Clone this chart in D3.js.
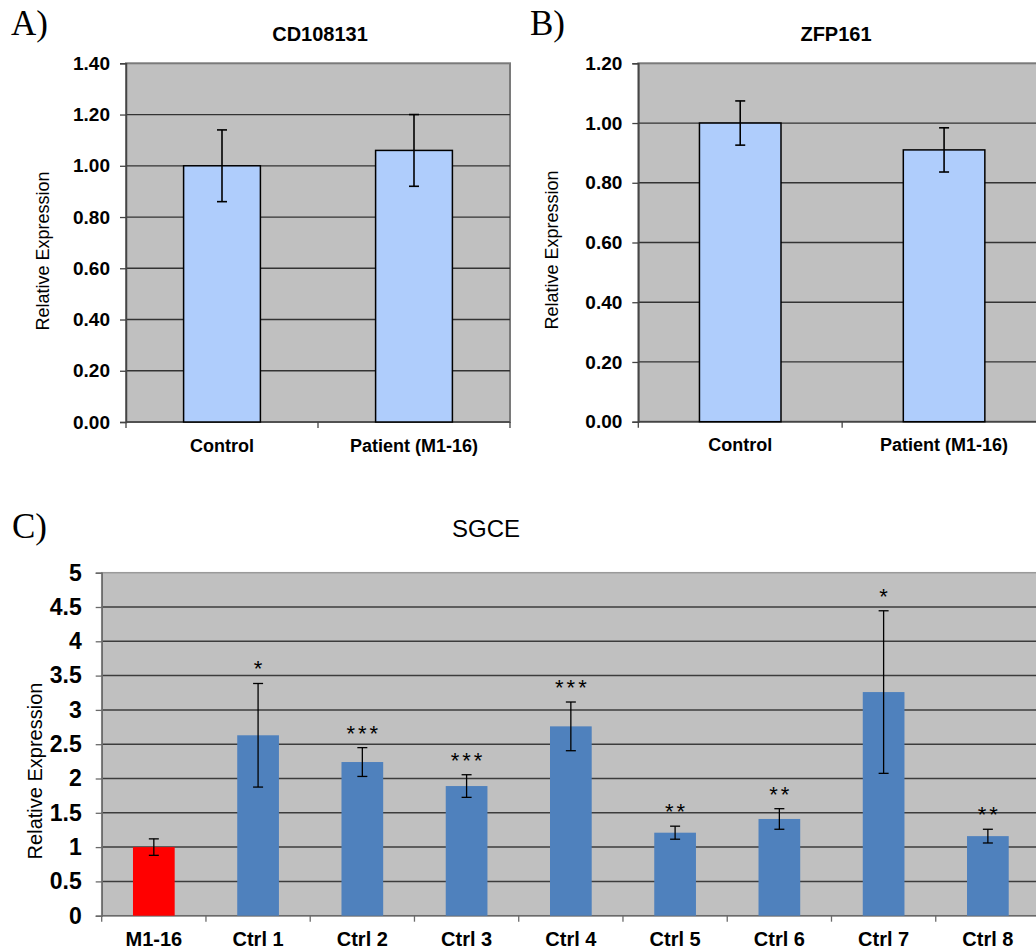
<!DOCTYPE html>
<html>
<head>
<meta charset="utf-8">
<script src="https://cdn.jsdelivr.net/npm/d3@7"></script>
<style>
  body { margin: 0; background: #fff; }
  svg text { font-family: "Liberation Sans", Arial, sans-serif; fill: #000; }
</style>
</head>
<body>
<svg id="chart" width="1036" height="951"></svg>
<script>
// panel A - CD108131
const cdCategories = ["Control", "Patient (M1-16)"];
const cdValues = [1.00, 1.06];
const cdErrors = [0.14, 0.14];
const cdTicks = [0, 0.2, 0.4, 0.6, 0.8, 1.0, 1.2, 1.4];

// panel B - ZFP161
const zfpCategories = ["Control", "Patient (M1-16)"];
const zfpValues = [1.00, 0.91];
const zfpErrors = [0.074, 0.074];
const zfpTicks = [0, 0.2, 0.4, 0.6, 0.8, 1.0, 1.2];

// panel C - SGCE
const sgceCategories = ["M1-16", "Ctrl 1", "Ctrl 2", "Ctrl 3", "Ctrl 4", "Ctrl 5", "Ctrl 6", "Ctrl 7", "Ctrl 8"];
const sgceValues = [1.00, 2.63, 2.24, 1.89, 2.76, 1.21, 1.41, 3.26, 1.16];
const sgceErrors = [0.12, 0.755, 0.21, 0.165, 0.355, 0.095, 0.15, 1.185, 0.10];
const sgceStars = ["", "*", "***", "***", "***", "**", "**", "*", "**"];
const sgceTicks = [0, 0.5, 1, 1.5, 2, 2.5, 3, 3.5, 4, 4.5, 5];

const svg = d3.select("#chart");

// one bar panel with grey plot area, gridlines and error bars
function drawPanel(cfg) {
  const g = svg.append("g");
  const rows = cfg.categories.map((c, i) => ({
    label: c, value: cfg.values[i], err: cfg.errors[i],
    star: cfg.stars ? cfg.stars[i] : "", color: cfg.colors ? cfg.colors[i] : cfg.barFill
  }));

  const x = d3.scaleBand()
    .domain(cfg.categories)
    .range([cfg.left, cfg.right])
    .paddingInner(0.6)
    .paddingOuter(0.3);

  const y = d3.scaleLinear()
    .domain([0, d3.max(cfg.ticks)])
    .range([cfg.bottom, cfg.top]);

  // plot background
  g.append("rect")
    .attr("x", cfg.left).attr("y", cfg.top)
    .attr("width", cfg.right - cfg.left).attr("height", cfg.bottom - cfg.top)
    .attr("fill", "#c0c0c0")
    .attr("stroke", cfg.borderColor).attr("stroke-width", cfg.borderWidth);

  // gridlines
  g.selectAll(".grid")
    .data(cfg.ticks.filter(t => t > 0 && t < d3.max(cfg.ticks)))
    .enter().append("line")
    .attr("x1", cfg.left).attr("x2", cfg.right)
    .attr("y1", d => y(d)).attr("y2", d => y(d))
    .attr("stroke", cfg.gridColor).attr("stroke-width", cfg.gridWidth);

  // y axis
  const yAxis = g.append("g")
    .attr("transform", `translate(${cfg.left},0)`)
    .call(d3.axisLeft(y).tickValues(cfg.ticks).tickFormat(cfg.tickFormat).tickSize(6).tickPadding(cfg.tickPadding));
  yAxis.select(".domain").attr("stroke", cfg.axisColor).attr("stroke-width", 1.5);
  yAxis.selectAll(".tick line").attr("stroke", cfg.axisColor).attr("stroke-width", 1.3);
  yAxis.selectAll("text")
    .style("font-size", cfg.tickFont + "px")
    .style("font-weight", "bold")
    .attr("fill", "#000");

  // x axis line and category separators
  const step = x.step();
  const bounds = d3.range(cfg.categories.length + 1).map(i => cfg.left + i * step);
  g.append("line")
    .attr("x1", cfg.left).attr("x2", cfg.right)
    .attr("y1", cfg.bottom).attr("y2", cfg.bottom)
    .attr("stroke", cfg.axisColor).attr("stroke-width", 1.5);
  g.selectAll(".xtick")
    .data(bounds)
    .enter().append("line")
    .attr("x1", d => d).attr("x2", d => d)
    .attr("y1", cfg.bottom).attr("y2", cfg.bottom + 6)
    .attr("stroke", cfg.axisColor).attr("stroke-width", 1.3);

  // x labels
  g.selectAll(".xlabel")
    .data(rows)
    .enter().append("text")
    .attr("x", d => x(d.label) + x.bandwidth() / 2)
    .attr("y", cfg.xLabelY)
    .attr("text-anchor", "middle")
    .style("font-size", cfg.xFont + "px")
    .style("font-weight", "bold")
    .text(d => d.label);

  // bars
  g.selectAll(".bar")
    .data(rows)
    .enter().append("rect")
    .attr("x", d => x(d.label))
    .attr("y", d => y(d.value))
    .attr("width", x.bandwidth())
    .attr("height", d => y(0) - y(d.value))
    .attr("fill", d => d.color)
    .attr("stroke", cfg.barStroke)
    .attr("stroke-width", cfg.barStrokeWidth);

  // error bars
  const eb = g.selectAll(".err")
    .data(rows)
    .enter().append("g")
    .attr("transform", d => `translate(${x(d.label) + x.bandwidth() / 2},0)`);
  eb.append("line")
    .attr("y1", d => y(d.value + d.err)).attr("y2", d => y(d.value - d.err))
    .attr("stroke", "#000").attr("stroke-width", cfg.errWidth);
  eb.append("line")
    .attr("x1", -cfg.cap).attr("x2", cfg.cap)
    .attr("y1", d => y(d.value + d.err)).attr("y2", d => y(d.value + d.err))
    .attr("stroke", "#000").attr("stroke-width", cfg.errWidth);
  eb.append("line")
    .attr("x1", -cfg.cap).attr("x2", cfg.cap)
    .attr("y1", d => y(d.value - d.err)).attr("y2", d => y(d.value - d.err))
    .attr("stroke", "#000").attr("stroke-width", cfg.errWidth);

  // significance stars
  eb.append("text")
    .attr("x", 1.5)
    .attr("y", d => y(d.value + d.err) - 7)
    .attr("text-anchor", "middle")
    .style("font-size", "22px")
    .style("letter-spacing", "3px")
    .text(d => d.star);

  // titles
  g.append("text")
    .attr("x", cfg.titleX).attr("y", cfg.titleY)
    .attr("text-anchor", "middle")
    .style("font-size", cfg.titleFont + "px")
    .style("font-weight", cfg.titleWeight)
    .text(cfg.title);

  g.append("text")
    .attr("transform", `translate(${cfg.yTitleX},${cfg.yTitleY}) rotate(-90)`)
    .attr("dy", "0.35em")
    .attr("text-anchor", "middle")
    .style("font-size", cfg.yTitleFont + "px")
    .text("Relative Expression");

  g.append("text")
    .attr("x", cfg.tagX).attr("y", cfg.tagY)
    .style("font-family", "'Liberation Serif', 'Times New Roman', serif")
    .style("font-size", "35px")
    .text(cfg.tag);
}

const topStyle = {
  tickFormat: d3.format(".2f"), tickPadding: 10, tickFont: 19, xFont: 18,
  barFill: "#afcdfc", barStroke: "#000", barStrokeWidth: 1.5,
  borderColor: "#7a7a7a", borderWidth: 2, gridColor: "#333", gridWidth: 1.3,
  axisColor: "#444", errWidth: 1.6, cap: 5,
  titleFont: 20, titleWeight: "bold", yTitleFont: 18
};

drawPanel(Object.assign({}, topStyle, {
  categories: cdCategories, values: cdValues, errors: cdErrors, ticks: cdTicks,
  left: 126, right: 510, top: 63.3, bottom: 422,
  xLabelY: 452, title: "CD108131", titleX: 320, titleY: 41,
  yTitleX: 43, yTitleY: 251, tag: "A)", tagX: 11, tagY: 35
}));

drawPanel(Object.assign({}, topStyle, {
  categories: zfpCategories, values: zfpValues, errors: zfpErrors, ticks: zfpTicks,
  left: 638.3, right: 1046, top: 63.3, bottom: 421.7,
  xLabelY: 451, title: "ZFP161", titleX: 836, titleY: 41,
  yTitleX: 551.7, yTitleY: 250, tag: "B)", tagX: 530, tagY: 35
}));

drawPanel({
  categories: sgceCategories, values: sgceValues, errors: sgceErrors, ticks: sgceTicks,
  stars: sgceStars,
  colors: sgceCategories.map((c, i) => i === 0 ? "#ff0000" : "#4f81bd"),
  left: 101.7, right: 1040, top: 572.7, bottom: 915.7,
  tickFormat: d => d, tickPadding: 14, tickFont: 23, xFont: 20,
  barStroke: "none", barStrokeWidth: 0,
  borderColor: "#9a9a9a", borderWidth: 1.5, gridColor: "#3c3c3c", gridWidth: 1.5,
  axisColor: "#6a6a6a", errWidth: 1.3, cap: 5,
  xLabelY: 946, title: "SGCE", titleX: 486, titleY: 537, titleFont: 24, titleWeight: "normal",
  yTitleX: 35, yTitleY: 771, yTitleFont: 20, tag: "C)", tagX: 12, tagY: 538
});
</script>
</body>
</html>
